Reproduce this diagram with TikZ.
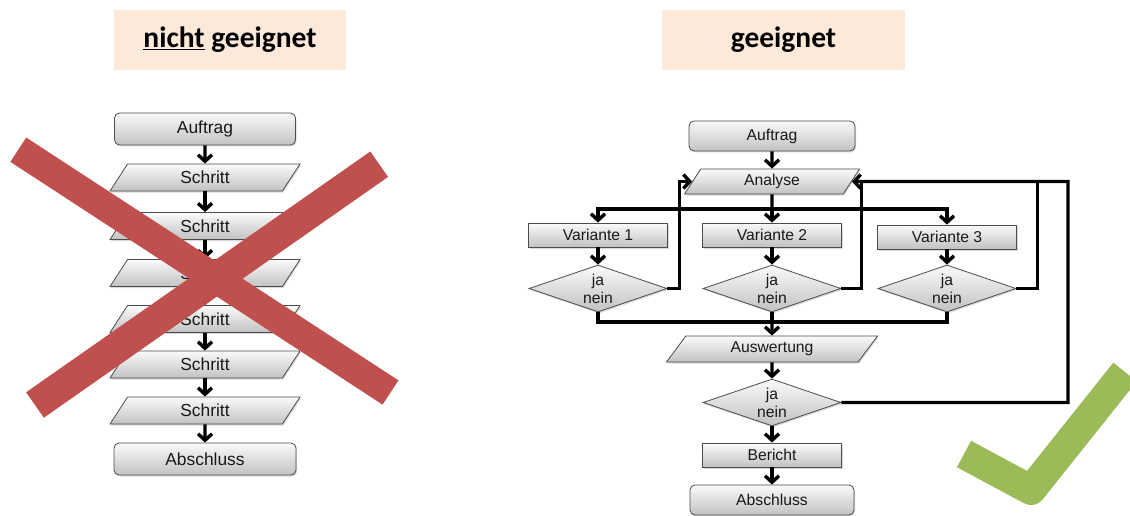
\documentclass[tikz,border=0pt]{standalone}
\usepackage{fontspec}
\setmainfont{Liberation Sans}
\newfontfamily\titelfont{Carlito}
\usetikzlibrary{shapes.geometric,arrows.meta,shadows}
\definecolor{kreuzrot}{HTML}{C0504D}
\definecolor{hakengruen}{HTML}{9BBB59}
\definecolor{titelrosa}{HTML}{FDE9D9}

\begin{document}
\begin{tikzpicture}[
    x=1pt, y=-1pt,
    links/.style={font=\fontsize{17.4}{20}\selectfont},
    rechts/.style={font=\fontsize{15.7}{18}\selectfont},
    feld/.style={draw=black!70, line width=0.8pt, top color=black!2,
      bottom color=black!24, text=black!90, inner sep=0pt,
      drop shadow={shadow xshift=1pt, shadow yshift=-1.5pt, opacity=0.3}},
    rund/.style 2 args={feld, rounded corners=5pt, minimum width=#1, minimum height=#2},
    kasten/.style={feld, minimum width=139pt, minimum height=24pt},
    schraeg/.style 2 args={feld, trapezium, trapezium left angle=36,
      trapezium right angle=144, trapezium stretches body,
      minimum width=#1, minimum height=#2},
    raute/.style={feld, diamond, aspect=3, minimum width=138pt,
      minimum height=47pt, align=center, rechts},
    linie/.style={line width=3.4pt, black},
    pfeil/.style={linie, -{Straight Barb[length=6.5pt, width=14pt]}},
    titel/.style={fill=titelrosa, minimum height=60pt,
      font=\titelfont\bfseries\fontsize{29.5}{34}\selectfont}
  ]
    \path[use as bounding box] (0,0) rectangle (1130,516);

    % Ueberschriften
    \node[titel, minimum width=232pt] (titelL) at (230,40) {\underline{nicht} geeignet};
    \node[titel, minimum width=243pt] (titelR) at (783.5,40) {geeignet};

    % linker Ablauf
    \node[rund={181pt}{32pt}, links] (auftragL) at (205,129) {Auftrag};
    \foreach \i/\y in {1/177.5, 2/226, 3/273, 4/319, 5/364.5, 6/410.5}
      \node[schraeg={190pt}{27pt}, links] (schritt\i) at (205,\y) {Schritt};
    \node[rund={182pt}{32pt}, links] (abschlussL) at (205,459) {Abschluss};
    \foreach \a/\b in {auftragL/schritt1, schritt1/schritt2, schritt2/schritt3,
        schritt3/schritt4, schritt4/schritt5, schritt5/schritt6, schritt6/abschlussL}
      \draw[pfeil] (\a.south) -- (\b.north);

    % rechter Ablauf
    \node[rund={166pt}{30pt}, rechts] (auftragR) at (772,136) {Auftrag};
    \node[schraeg={175pt}{25pt}, trapezium left angle=42,
      trapezium right angle=138, rechts] (analyse) at (772,181.5) {Analyse};
    \foreach \i/\x/\y in {1/598/235, 2/772/235, 3/947/237}
      \node[kasten, rechts] (var\i) at (\x,\y) {Variante \i};
    \foreach \i/\x in {1/598, 2/772, 3/947}
      \node[raute] (ent\i) at (\x,288.5) {ja\\nein};
    \node[schraeg={211pt}{26pt}, rechts] (auswertung) at (772,349) {Auswertung};
    \node[raute] (ent4) at (772,402.5) {ja\\nein};
    \node[kasten, rechts] (bericht) at (772,455) {Bericht};
    \node[rund={164pt}{30pt}, rechts] (abschlussR) at (772,500) {Abschluss};

    \coordinate (verteiler) at (772,209);
    \coordinate (sammler) at (772,322);
    \coordinate (rueck) at (1068,181.5);

    \draw[pfeil] (auftragR.south) -- (analyse.north);
    \draw[linie] (analyse.south) -- (verteiler);
    \foreach \i in {1,2,3} {
      \draw[pfeil] (verteiler) -| (var\i.north);
      \draw[pfeil] (var\i.south) -- (ent\i.north);
      \draw[linie] (ent\i.south) |- (sammler);
    }
    \draw[pfeil] (sammler) -- (auswertung.north);
    \draw[pfeil] (ent1.east) -- ++(12,0) |- (analyse.west);
    \draw[linie] (ent2.east) -- ++(20,0) |- (rueck);
    \draw[linie] (ent3.east) -- ++(21,0) |- (rueck);
    \draw[pfeil] (ent4.east) -| (rueck) -- (analyse.east);
    \draw[pfeil] (auswertung.south) -- (ent4.north);
    \draw[pfeil] (ent4.south) -- (bericht.north);
    \draw[pfeil] (bericht.south) -- (abschlussR.north);

    % Kreuz und Haken
    \draw[kreuzrot, line width=29pt] (18.3,149.7) -- (390.5,392.5);
    \draw[kreuzrot, line width=31pt] (35,405) -- (379.2,164.2);
    \draw[hakengruen, line width=30pt, line join=round]
      (964,454) -- (1031,490) -- (1125,372);
  \end{tikzpicture}
\end{document}
